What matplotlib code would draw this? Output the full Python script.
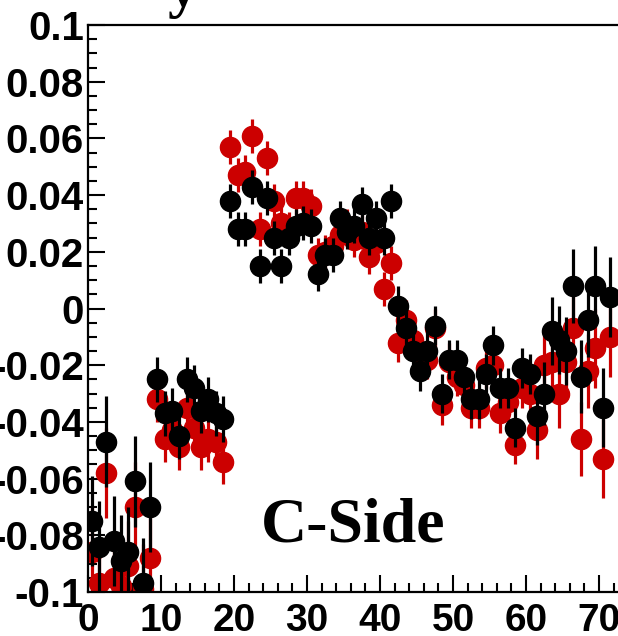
import matplotlib
matplotlib.use("Agg")
import matplotlib.pyplot as plt
from matplotlib.ticker import MultipleLocator, FuncFormatter

# ---- data (bin centres 0.5 ... 71.5) ----
bin_centers = [i + 0.5 for i in range(72)]

black_vals = [
    -0.075, -0.084, -0.047, -0.082, -0.089, -0.086, -0.061, -0.097, -0.070,
    -0.025, -0.037, -0.036, -0.045, -0.025, -0.028, -0.036, -0.032, -0.037, -0.039,
    0.038, 0.028, 0.028, 0.043, 0.015, 0.039, 0.025, 0.015, 0.025, 0.029, 0.030,
    0.029, 0.012, 0.019, 0.019, 0.032, 0.027, 0.029, 0.037, 0.025, 0.032, 0.025,
    0.038,
    0.001, -0.007, -0.015, -0.022, -0.015, -0.006, -0.030, -0.018, -0.018, -0.024,
    -0.032, -0.032, -0.023, -0.013, -0.028, -0.028, -0.042, -0.021, -0.023,
    -0.038, -0.030, -0.008, -0.011, -0.015, 0.008, -0.024, -0.004, 0.008, -0.035,
    0.004,
]
red_vals = [
    -0.086, -0.097, -0.058, -0.095, -0.098, -0.091, -0.070, -0.099, -0.088,
    -0.032, -0.046, -0.043, -0.049, -0.035, -0.042, -0.049, -0.046, -0.047, -0.054,
    0.057, 0.047, 0.048, 0.061, 0.028, 0.053, 0.038, 0.030, 0.028, 0.039, 0.039,
    0.036, 0.019, 0.020, 0.022, 0.026, 0.029, 0.024, 0.027, 0.018, 0.023, 0.007,
    0.016,
    -0.012, -0.004, -0.011, -0.016, -0.018, -0.007, -0.034, -0.019, -0.024, -0.027,
    -0.035, -0.035, -0.021, -0.020, -0.037, -0.033, -0.048, -0.028, -0.030,
    -0.043, -0.020, -0.019, -0.030, -0.019, -0.007, -0.046, -0.022, -0.014, -0.053,
    -0.010,
]
black_err = (
    [0.016] * 9 + [0.008] * 10 + [0.006] * 23 + [0.007] * 19 +
    [0.010, 0.011, 0.012, 0.012, 0.012, 0.013, 0.013, 0.013, 0.014, 0.014, 0.014]
)
red_err = (
    [0.016] * 9 + [0.008] * 10 + [0.006] * 23 + [0.007] * 19 +
    [0.010, 0.011, 0.012, 0.012, 0.012, 0.013, 0.013, 0.013, 0.014, 0.014, 0.014]
)

x_ticks = [0, 10, 20, 30, 40, 50, 60, 70]
y_ticks = [-0.1, -0.08, -0.06, -0.04, -0.02, 0, 0.02, 0.04, 0.06, 0.08, 0.1]

RED = "#cc0000"
W, H = 618, 636
fig = plt.figure(figsize=(W / 100, H / 100), dpi=100)

x0_px, px_per_unit = 88, 7.3
xmax = 80
ax = fig.add_axes([x0_px / W, (H - 592) / H, xmax * px_per_unit / W, (592 - 25) / H])

ax.errorbar(bin_centers, red_vals, yerr=red_err, fmt="o", color=RED, mec=RED,
            mfc=RED, ms=14.5, elinewidth=2.3, capsize=0, zorder=2)
ax.errorbar(bin_centers, black_vals, yerr=black_err, fmt="o", color="black",
            mec="black", mfc="black", ms=14.5, elinewidth=2.3, capsize=0, zorder=3)

ax.set_xlim(0, xmax)
ax.set_ylim(-0.1, 0.1)
ax.set_xticks(x_ticks)
ax.set_yticks(y_ticks)
ax.xaxis.set_minor_locator(MultipleLocator(2))
ax.yaxis.set_minor_locator(MultipleLocator(0.005))
ax.yaxis.set_major_formatter(FuncFormatter(lambda v, p: "0" if abs(v) < 1e-9 else ("%g" % v)))

ax.tick_params(which="both", direction="in", width=1.5, top=False, right=False)
ax.tick_params(which="major", length=12.5)
ax.tick_params(which="minor", length=6.5)
ax.tick_params(axis="x", which="major", pad=8)
ax.tick_params(axis="y", which="major", pad=3)
for lab in ax.get_xticklabels():
    lab.set_fontfamily("Liberation Sans")
    lab.set_fontweight("bold")
    lab.set_fontsize(28)
for lab in ax.get_yticklabels():
    lab.set_fontfamily("Liberation Sans")
    lab.set_fontweight("bold")
    lab.set_fontsize(29)
for s in ax.spines.values():
    s.set_linewidth(1.6)

fig.text(353 / W, 1 - 542 / H, "C-Side", family="Liberation Serif", weight="bold",
         fontsize=46, ha="center", va="baseline")
fig.text(183 / W, 1 - 6 / H, "y", family="Liberation Serif", weight="bold",
         fontsize=44, ha="center", va="baseline")

fig.savefig("out.png", dpi=100)
